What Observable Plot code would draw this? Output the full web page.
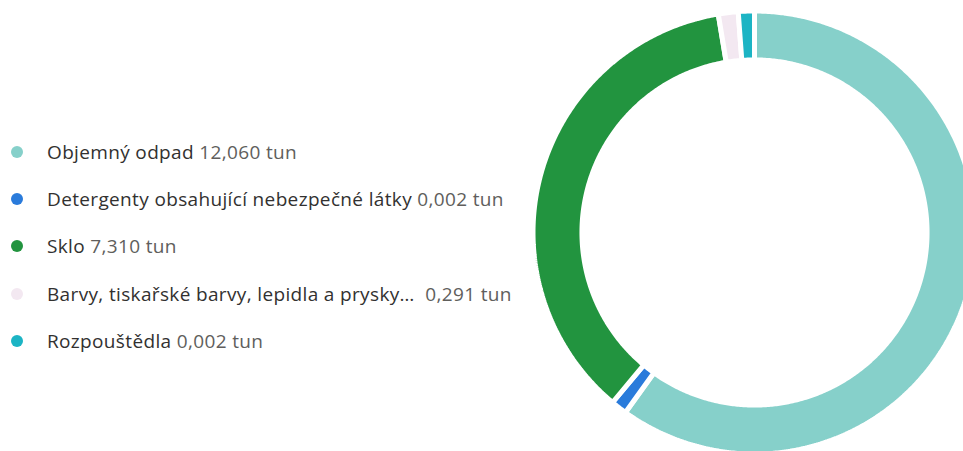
<!DOCTYPE html>
<html>
<head>
<meta charset="utf-8">
<script src="https://cdn.jsdelivr.net/npm/d3@7"></script>
<script src="https://cdn.jsdelivr.net/npm/@observablehq/plot@0.6"></script>
<style>
  html, body { margin: 0; padding: 0; background: #fff; overflow: hidden; width: 963px; height: 451px; }
  #wrap { position: relative; width: 963px; height: 451px; }
  #legend { position: absolute; left: 0; top: 137px; font-family: "Open Sans", sans-serif; font-size: 19px; letter-spacing: 0.35px; }
  .row { position: absolute; left: 0; height: 30px; white-space: nowrap; display: flex; align-items: center; }
  .dot { position: absolute; left: 11px; width: 12px; height: 12px; border-radius: 50%; }
  .lab { position: absolute; left: 47px; color: #323130; }
  .val { color: #605E5C; }
  #chart { position: absolute; left: 0; top: 0; }
</style>
</head>
<body>
<div id="wrap">
  <div id="chart"></div>
  <div id="legend"></div>
</div>
<script>
// Data (values in tonnes)
const categories = [
  "Objemný odpad",
  "Detergenty obsahující nebezpečné látky",
  "Sklo",
  "Barvy, tiskařské barvy, lepidla a prysky…",
  "Rozpouštědla"
];
const values = [12.060, 0.002, 7.310, 0.291, 0.002];
const valueLabels = ["12,060 tun", "0,002 tun", "7,310 tun", "0,291 tun", "0,002 tun"];
const colors = ["#86D0CA", "#2A7BDB", "#22943F", "#F3E8F1", "#1CB4C4"];

// Display rule: very small slices get a minimum visible share
const minShare = 0.012;
const total = d3.sum(values);
const shares = values.map(v => Math.max(v / total, minShare));
const shareSum = d3.sum(shares);

// Build slice polygons in unit-circle coordinates (angle clockwise from top)
const innerRatio = 0.779;
const pts = [];
let acc = 0;
categories.forEach((c, i) => {
  const a0 = acc / shareSum * 2 * Math.PI;
  acc += shares[i];
  const a1 = acc / shareSum * 2 * Math.PI;
  const n = Math.max(4, Math.ceil((a1 - a0) / (Math.PI / 360)));
  for (let k = 0; k <= n; k++) {
    const a = a0 + (a1 - a0) * k / n;
    pts.push({cat: c, x: Math.sin(a), y: Math.cos(a)});
  }
  for (let k = n; k >= 0; k--) {
    const a = a0 + (a1 - a0) * k / n;
    pts.push({cat: c, x: innerRatio * Math.sin(a), y: innerRatio * Math.cos(a)});
  }
});

const cx = 754, cy = 232, R = 221.5;
const chart = Plot.plot({
  width: 963,
  height: 451,
  margin: 0,
  style: {background: "transparent", overflow: "hidden"},
  x: {domain: [-1, 1], range: [cx - R, cx + R], axis: null},
  y: {domain: [-1, 1], range: [cy + R, cy - R], axis: null},
  color: {domain: categories, range: colors},
  marks: [
    Plot.line(pts, {x: "x", y: "y", z: "cat", fill: "cat", stroke: "white", strokeWidth: 5, curve: "linear-closed", strokeLinejoin: "miter"})
  ]
});
document.getElementById("chart").appendChild(chart);

// Legend
const legend = d3.select("#legend");
categories.forEach((c, i) => {
  const row = legend.append("div").attr("class", "row").style("top", (i * 47.2) + "px");
  row.append("div").attr("class", "dot").style("background", colors[i]);
  const lab = row.append("div").attr("class", "lab");
  lab.append("span").text(c);
  lab.append("span").attr("class", "val").html((i === 3 ? "&nbsp;&nbsp;" : "&nbsp;") + valueLabels[i]);
});
</script>
</body>
</html>
